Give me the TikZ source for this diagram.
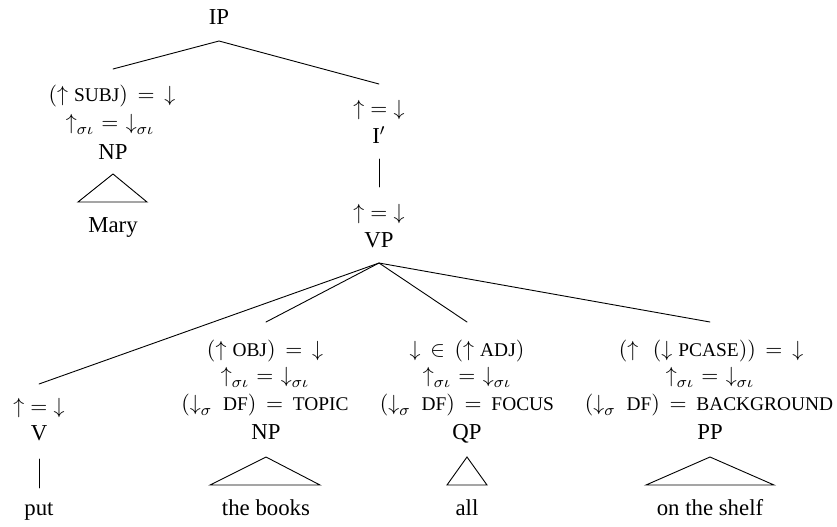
\documentclass[tikz,border=0pt]{standalone}
\usepackage{fontspec}
\setmainfont{Liberation Serif}
\newcommand\fsc[1]{\mbox{\fontsize{9.7}{11}\selectfont #1}}
\newcommand\up{{\uparrow}}
\newcommand\dn{{\downarrow}}
\newcommand\eqsp{\mathrel{\mskip3mu=\mskip3mu}}
\newcommand\insp{\mathrel{\mskip3mu\in\mskip3mu}}
\newcommand\gap{\mskip5mu}
\begin{document}
\begin{tikzpicture}[x=0.5pt,y=-0.5pt,
  lbl/.style={anchor=base,inner sep=0pt,font=\fontsize{11.4}{13.7}\selectfont},
  edge/.style={line width=0.45pt,line cap=round}]
\useasboundingbox (0,0) rectangle (837,526);
% ---- top
\node[lbl] (ip) at (219,24) {IP};
\coordinate (ipB) at (219,41);
% subject column
\coordinate (subjT) at (113,69);
\node[lbl] (subjA) at (112,101) {$(\up\gap\fsc{SUBJ}) \eqsp \dn$};
\node[lbl] (subjB) at (110,129) {$\up_{\sigma\iota} \mathrel{\mskip1mu=\mskip1mu} \dn_{\sigma\iota}$};
\node[lbl] (np1) at (113,159) {NP};
\coordinate (t1a) at (113,174); \coordinate (t1l) at (78,202); \coordinate (t1r) at (147,202);
\node[lbl] (mary) at (113,232) {Mary};
% I' column
\coordinate (ibT) at (379,84);
\node[lbl] (ibA) at (379,115) {$\up = \dn$};
\node[lbl] (ibar) at (379,143) {I$'$};
\coordinate (ibB) at (379,159); \coordinate (vpT) at (379,187);
\node[lbl] (vpA) at (379,219) {$\up = \dn$};
\node[lbl] (vp) at (379,247) {VP};
\coordinate (vpB) at (379,263);
% V column
\coordinate (vT) at (39,384);
\node[lbl] (vA) at (39,413) {$\up = \dn$};
\node[lbl] (v) at (39,440) {V};
\coordinate (vB) at (39,459); \coordinate (putT) at (39,488);
\node[lbl] (put) at (39,515) {put};
% NP object column
\coordinate (objT) at (266,322);
\node[lbl] (objA) at (265,356) {$(\up\gap\fsc{OBJ}) \eqsp \dn$};
\node[lbl] (objB) at (265,382) {$\up_{\sigma\iota} \mathrel{\mskip1mu=\mskip1mu} \dn_{\sigma\iota}$};
\node[lbl] (objC) at (265,410) {$(\dn_{\sigma}\mskip9mu\fsc{DF}) \eqsp \fsc{TOPIC}$};
\node[lbl] (np2) at (266,439) {NP};
\coordinate (t2a) at (266,457); \coordinate (t2l) at (210,485); \coordinate (t2r) at (320,485);
\node[lbl] (books) at (266,515) {the books};
% QP column
\coordinate (qpT) at (467,322);
\node[lbl] (qpA) at (467,356) {$\dn \insp (\up\gap\fsc{ADJ})$};
\node[lbl] (qpB) at (467,382) {$\up_{\sigma\iota} \mathrel{\mskip1mu=\mskip1mu} \dn_{\sigma\iota}$};
\node[lbl] (qpC) at (467,410) {$(\dn_{\sigma}\mskip9mu\fsc{DF}) \eqsp \fsc{FOCUS}$};
\node[lbl] (qp) at (467,439) {QP};
\coordinate (t3a) at (467,457); \coordinate (t3l) at (447,485); \coordinate (t3r) at (487,485);
\node[lbl] (all) at (467,515) {all};
% PP column
\coordinate (ppT) at (710,322);
\node[lbl] (ppA) at (711,356) {$(\up\mskip12mu(\dn\gap\fsc{PCASE})) \eqsp \dn$};
\node[lbl] (ppB) at (710,382) {$\up_{\sigma\iota} \mathrel{\mskip1mu=\mskip1mu} \dn_{\sigma\iota}$};
\node[lbl] (ppC) at (709,410) {$(\dn_{\sigma}\mskip9mu\fsc{DF}) \eqsp \fsc{BACKGROUND}$};
\node[lbl] (pp) at (710,439) {PP};
\coordinate (t4a) at (710,457); \coordinate (t4l) at (646,485); \coordinate (t4r) at (774,485);
\node[lbl] (shelf) at (710,515) {on the shelf};
% ---- connectors
\draw[edge] (subjT) -- (ipB) -- (ibT);
\draw[edge] (ibB) -- (vpT);
\draw[edge] (vT) -- (vpB) -- (ppT);
\draw[edge] (objT) -- (vpB) -- (qpT);
\draw[edge] (vB) -- (putT);
\draw[edge] (t1l) -- (t1a) -- (t1r) -- cycle;
\draw[edge] (t2l) -- (t2a) -- (t2r) -- cycle;
\draw[edge] (t3l) -- (t3a) -- (t3r) -- cycle;
\draw[edge] (t4l) -- (t4a) -- (t4r) -- cycle;
\end{tikzpicture}
\end{document}
